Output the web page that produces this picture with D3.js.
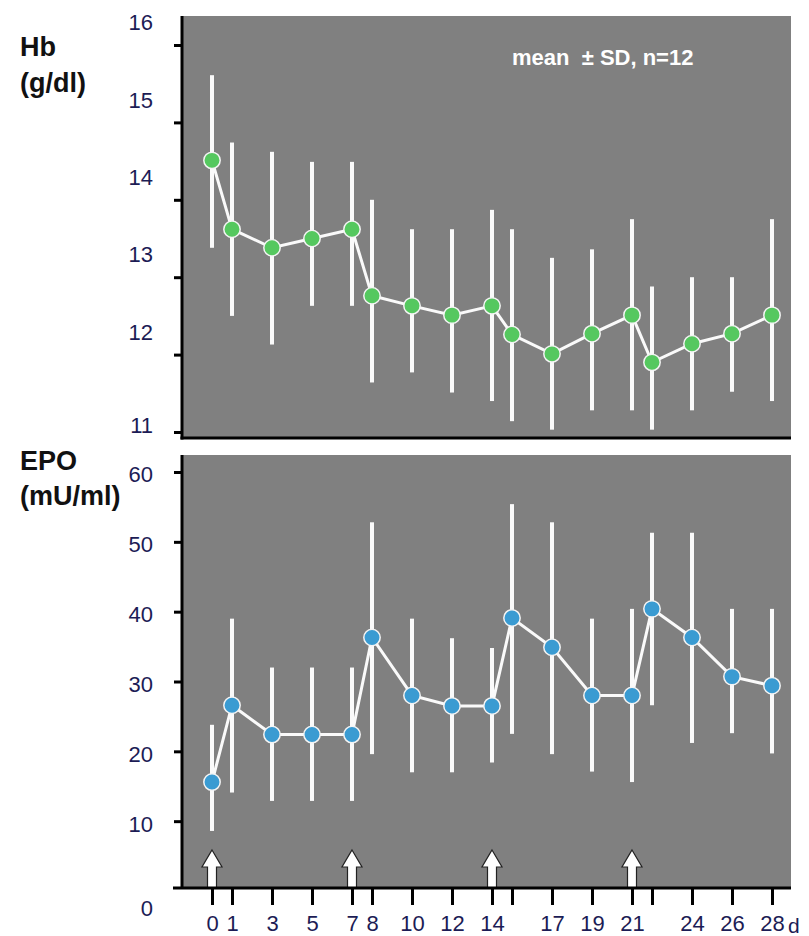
<!DOCTYPE html>
<html>
<head>
<meta charset="utf-8">
<script src="https://cdn.jsdelivr.net/npm/d3@7"></script>
<style>
  html, body { margin: 0; padding: 0; background: #fff; }
  svg { display: block; font-family: "Liberation Sans", Arial, sans-serif; }
</style>
</head>
<body>
<svg id="chart" width="809" height="936"></svg>
<script>
// ---- data ----
const days = [0, 1, 3, 5, 7, 8, 10, 12, 14, 15, 17, 19, 21, 22, 24, 26, 28];
const xTickLabels = ["0", "1", "3", "5", "7", "8", "10", "12", "14", "", "17", "19", "21", "", "24", "26", "28"];

const hbMean = [14.51, 13.62, 13.38, 13.50, 13.62, 12.76, 12.63, 12.51, 12.63, 12.26, 12.01, 12.27, 12.51, 11.90, 12.14, 12.27, 12.51];
const hbHigh = [15.61, 14.74, 14.62, 14.49, 14.49, 14.00, 13.62, 13.62, 13.87, 13.62, 13.25, 13.36, 13.75, 12.88, 13.00, 13.00, 13.75];
const hbLow  = [13.38, 12.50, 12.13, 12.63, 12.63, 11.64, 11.77, 11.51, 11.40, 11.14, 11.03, 11.28, 11.28, 11.03, 11.28, 11.52, 11.40];

const epoMean = [15.6, 26.6, 22.4, 22.4, 22.4, 36.3, 28.0, 26.5, 26.5, 39.1, 34.9, 28.0, 28.0, 40.4, 36.3, 30.7, 29.4];
const epoHigh = [23.8, 39.0, 32.0, 32.0, 32.0, 52.8, 39.0, 36.2, 34.8, 55.4, 52.8, 39.0, 40.4, 51.3, 51.3, 40.4, 40.4];
const epoLow  = [8.6, 14.1, 12.9, 12.9, 12.9, 19.6, 17.0, 17.0, 18.4, 22.5, 19.6, 17.1, 15.6, 26.6, 21.2, 22.6, 19.7];

const hbTicks = [11, 12, 13, 14, 15, 16];
const epoTicks = [0, 10, 20, 30, 40, 50, 60];
const arrowDays = [0, 7, 14, 21];

// ---- layout ----
const svg = d3.select("#chart");
const left = 182, right = 791;
const top1 = 16, bot1 = 438;
const top2 = 455, bot2 = 888;

const x = d3.scaleLinear().domain([-1.5, 28.95]).range([left, right]);
const yHb = d3.scaleLinear().domain([11, 16]).range([432, 45]);
const yEpo = d3.scaleLinear().domain([0, 60]).range([891, 472]);

const gray = "#808080";
const labelColor = "#1c1c55";

function panel(top, bot, y, mean, hi, lo, fill) {
  const g = svg.append("g");
  g.append("rect").attr("x", left).attr("y", top).attr("width", right - left).attr("height", bot - top).attr("fill", gray);
  const data = days.map((d, i) => ({ d, m: mean[i], h: hi[i], l: lo[i] }));
  g.selectAll("line.err").data(data).join("line").attr("class", "err")
    .attr("x1", p => x(p.d)).attr("x2", p => x(p.d))
    .attr("y1", p => y(p.h)).attr("y2", p => y(p.l))
    .attr("stroke", "#fafafa").attr("stroke-width", 4);
  g.append("path").datum(data)
    .attr("d", d3.line().x(p => x(p.d)).y(p => y(p.m)))
    .attr("fill", "none").attr("stroke", "#fafafa").attr("stroke-width", 3);
  g.selectAll("circle").data(data).join("circle")
    .attr("cx", p => x(p.d)).attr("cy", p => y(p.m)).attr("r", 8.2)
    .attr("fill", fill).attr("stroke", "#f4f4f4").attr("stroke-width", 1.5);
  return g;
}

panel(top1, bot1, yHb, hbMean, hbHigh, hbLow, "#55c85f");
panel(top2, bot2, yEpo, epoMean, epoHigh, epoLow, "#3a9bd2");

// ---- arrows ----
const ag = svg.append("g");
arrowDays.forEach(d => {
  const cx = x(d), tip = 850, base = 867, end = bot2;
  const p = d3.path();
  p.moveTo(cx, tip);
  p.lineTo(cx + 10, base);
  p.lineTo(cx + 4.5, base);
  p.lineTo(cx + 4.5, end);
  p.lineTo(cx - 4.5, end);
  p.lineTo(cx - 4.5, base);
  p.lineTo(cx - 10, base);
  p.closePath();
  ag.append("path").attr("d", p.toString()).attr("fill", "#ffffff").attr("stroke", "#222").attr("stroke-width", 1.2);
});

// ---- axes ----
function styleAxis(g) {
  g.select(".domain").remove();
  g.selectAll(".tick line").attr("stroke", "#000").attr("stroke-width", 3);
  g.selectAll(".tick text").attr("fill", labelColor).style("font-size", "22px");
}

const axHb = svg.append("g").attr("transform", `translate(${left},0)`)
  .call(d3.axisLeft(yHb).tickValues(hbTicks).tickSize(8).tickPadding(21).tickFormat(d3.format("d")));
styleAxis(axHb);
axHb.selectAll(".tick text").attr("dy", d => d === 11 ? "0.0em" : "-0.7em");

const axEpo = svg.append("g").attr("transform", `translate(${left},0)`)
  .call(d3.axisLeft(yEpo).tickValues(epoTicks).tickSize(8).tickPadding(21).tickFormat(d3.format("d")));
styleAxis(axEpo);
axEpo.selectAll(".tick").filter(d => d === 0).select("line").remove();
axEpo.selectAll(".tick text").attr("dy", d => d === 0 ? "1.1em" : "0.45em");

const axX = svg.append("g").attr("transform", `translate(0,${bot2})`)
  .call(d3.axisBottom(x).tickValues(days).tickSize(17).tickPadding(10).tickFormat((d, i) => xTickLabels[i]));
styleAxis(axX);

// axis lines
svg.append("line").attr("x1", left).attr("x2", left).attr("y1", top1).attr("y2", bot1 + 1.5).attr("stroke", "#000").attr("stroke-width", 3);
svg.append("line").attr("x1", left - 1.5).attr("x2", right).attr("y1", bot1).attr("y2", bot1).attr("stroke", "#000").attr("stroke-width", 3);
svg.append("line").attr("x1", left).attr("x2", left).attr("y1", top2).attr("y2", bot2).attr("stroke", "#000").attr("stroke-width", 3);
svg.append("line").attr("x1", 173).attr("x2", right).attr("y1", bot2).attr("y2", bot2).attr("stroke", "#000").attr("stroke-width", 3);

// unit "d"
svg.append("text").attr("x", x(28) + 16).attr("y", 933).attr("fill", labelColor).style("font-size", "21px").text("d");

// ---- titles ----
const titleStyle = t => t.style("font-size", "27px").style("font-weight", "bold").attr("fill", "#111");
svg.append("text").attr("x", 20).attr("y", 56).call(titleStyle).text("Hb");
svg.append("text").attr("x", 20).attr("y", 92).call(titleStyle).text("(g/dl)");
svg.append("text").attr("x", 20).attr("y", 470).call(titleStyle).text("EPO");
svg.append("text").attr("x", 20).attr("y", 505).call(titleStyle).text("(mU/ml)");

svg.append("text").attr("x", 512).attr("y", 65).style("font-size", "22px").style("font-weight", "bold").attr("fill", "#ffffff")
  .attr("xml:space", "preserve").text("mean  \u00b1 SD, n=12");
</script>
</body>
</html>
